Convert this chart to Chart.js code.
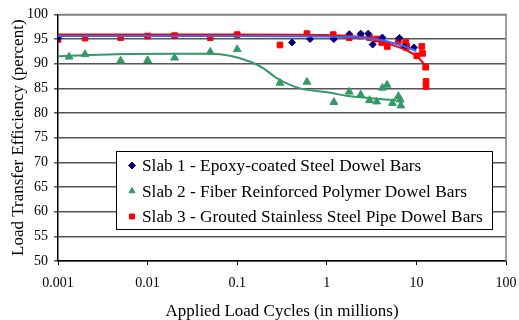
<!DOCTYPE html>
<html>
<head>
<meta charset="utf-8">
<script src="https://cdn.jsdelivr.net/npm/chart.js@4"></script>
<style>
  html, body { margin: 0; padding: 0; background: #fff; }
  #wrap { width: 519px; height: 320px; }
</style>
</head>
<body>
<div id="wrap"><canvas id="c" width="519" height="320"></canvas></div>
<script>
// 데이터 (x = 백만 회, y = %)
const slab1Points = [
  [0.001, 95.2], [0.41, 94.3], [0.65, 95.0], [1.2, 95.0], [1.78, 96.0], [2.39, 96.1],
  [2.9, 96.1], [3.25, 93.9], [4.17, 95.3], [6.46, 95.2], [7.3, 93.4], [9.4, 93.3]
];
const slab2Points = [
  [0.00133, 91.4], [0.002, 91.9], [0.005, 90.6], [0.01, 90.7], [0.02, 91.2], [0.05, 92.4],
  [0.1, 92.9], [0.3, 86.1], [0.6, 86.3], [1.2, 82.2], [1.78, 84.3], [2.39, 83.7],
  [3.0, 82.6], [3.6, 82.3], [4.17, 85.1], [4.7, 85.7], [5.4, 82.0], [6.3, 83.4],
  [6.6, 82.7], [6.7, 81.5]
];
const slab3Points = [
  [0.001, 94.9], [0.002, 95.2], [0.005, 95.3], [0.01, 95.6], [0.02, 95.7], [0.05, 95.3],
  [0.1, 95.9], [0.3, 93.8], [0.6, 96.1], [1.18, 95.9], [1.78, 95.3], [2.39, 95.6],
  [3.0, 95.3], [3.6, 95.0], [4.1, 94.3], [4.73, 93.5], [6.3, 94.7], [7.6, 94.3],
  [7.8, 93.5], [10.1, 91.6], [11.5, 93.5], [11.7, 92.1], [12.7, 89.3], [12.8, 86.4], [12.8, 85.4]
];
// 추세선
const slab1Trend = [[0.001, 95.6], [0.1, 95.6], [1, 95.5], [2, 95.4], [4, 94.8], [6, 94.0], [8, 93.3], [10, 92.6]];
const slab2Trend = [
  [0.001, 91.5], [0.0045, 91.9], [0.02, 92.0], [0.05, 92.0], [0.083, 91.6], [0.14, 90.4],
  [0.195, 89.1], [0.275, 87.1], [0.39, 85.7], [0.5, 85.0], [1.1, 84.1], [1.65, 83.5], [6.0, 82.6]
];
const slab3Trend = [[0.001, 95.9], [0.1, 95.9], [1, 95.8], [3, 95.2], [5, 94.0], [8, 92.6], [10.1, 91.5], [13, 89.4]];

const seriesLabels = [
  'Slab 1 - Epoxy-coated Steel Dowel Bars',
  'Slab 2 - Fiber Reinforced Polymer Dowel Bars',
  'Slab 3 - Grouted Stainless Steel Pipe Dowel Bars'
];
const xTicks = [0.001, 0.01, 0.1, 1, 10, 100];
const yTicks = [50, 55, 60, 65, 70, 75, 80, 85, 90, 95, 100];

const FONT = "'Liberation Serif', 'Times New Roman', serif";
const toXY = arr => arr.map(p => ({ x: p[0], y: p[1] }));

// 범례 박스 (차트 안쪽)
const legendBox = {
  id: 'legendBox',
  afterDatasetsDraw(chart) {
    const ctx = chart.ctx;
    const x0 = 116, y0 = 151, w = 376, h = 78;
    ctx.save();
    ctx.fillStyle = '#fff';
    ctx.fillRect(x0, y0, w, h);
    ctx.strokeStyle = '#000';
    ctx.lineWidth = 1;
    ctx.strokeRect(x0 + 0.5, y0 + 0.5, w, h);
    ctx.font = '17.3px ' + FONT;
    ctx.textBaseline = 'middle';
    const rows = [165.5, 191, 216.5];
    for (let i = 0; i < 3; i++) {
      const ds = chart.data.datasets[i];
      ctx.fillStyle = ds.backgroundColor;
      ctx.strokeStyle = ds.backgroundColor;
      Chart.helpers.drawPoint(ctx, {
        pointStyle: ds.pointStyle, radius: 3.5, rotation: 0, borderWidth: 1
      }, 132, rows[i]);
      ctx.fillStyle = '#000';
      ctx.fillText(seriesLabels[i], 142, rows[i] + 1);
    }
    ctx.restore();
  }
};

const frame = {
  id: 'frame',
  beforeDatasetsDraw(chart) {
    const a = chart.chartArea, ctx = chart.ctx;
    ctx.save();
    ctx.strokeStyle = '#808080';
    ctx.lineWidth = 1.5;
    ctx.beginPath();
    ctx.moveTo(a.left, a.top);
    ctx.lineTo(a.right, a.top);
    ctx.lineTo(a.right, a.bottom);
    ctx.stroke();
    ctx.restore();
  }
};

new Chart(document.getElementById('c'), {
  type: 'scatter',
  data: {
    datasets: [
      { label: seriesLabels[0], data: toXY(slab1Points), pointStyle: 'rectRot', pointRadius: 3.5,
        backgroundColor: '#000080', borderColor: '#000080', order: 2 },
      { label: seriesLabels[1], data: toXY(slab2Points), pointStyle: 'triangle', pointRadius: 4.5,
        backgroundColor: '#339966', borderColor: '#339966', order: 4 },
      { label: seriesLabels[2], data: toXY(slab3Points), pointStyle: 'rect', pointRadius: 4,
        backgroundColor: '#ff0000', borderColor: '#ff0000', order: 3 },
      { label: 't1', data: toXY(slab1Trend), showLine: true, pointRadius: 0, borderColor: '#3366ff',
        borderWidth: 2, cubicInterpolationMode: 'monotone', order: 0 },
      { label: 't2', data: toXY(slab2Trend), showLine: true, pointRadius: 0, borderColor: '#339966',
        borderWidth: 2, cubicInterpolationMode: 'monotone', order: 1 },
      { label: 't3', data: toXY(slab3Trend), showLine: true, pointRadius: 0, borderColor: '#ff0000',
        borderWidth: 2, cubicInterpolationMode: 'monotone', order: 1 }
    ]
  },
  options: {
    responsive: false,
    animation: false,
    layout: { padding: { top: 11, right: 0, left: 0, bottom: 0 } },
    plugins: { legend: { display: false }, tooltip: { enabled: false } },
    scales: {
      x: {
        type: 'logarithmic',
        min: 0.001, max: 100,
        afterBuildTicks: s => { s.ticks = xTicks.map(v => ({ value: v })); },
        afterFit: s => { s.height = 59; s.paddingRight = 13; s.paddingLeft = 0; },
        ticks: {
          callback: v => String(v), autoSkip: false, maxRotation: 0,
          color: '#000', font: { family: FONT, size: 14 }, padding: 10
        },
        grid: { drawOnChartArea: false, color: '#000', tickLength: 4 },
        border: { color: '#000', width: 1.5 },
        title: {
          display: true, text: 'Applied Load Cycles (in millions)', color: '#000',
          font: { family: FONT, size: 17, lineHeight: 1 }, padding: { top: 0, bottom: 0 }
        }
      },
      y: {
        min: 50, max: 100,
        afterBuildTicks: s => { s.ticks = yTicks.map(v => ({ value: v })); },
        afterFit: s => { s.width = 58; },
        ticks: { color: '#000', font: { family: FONT, size: 14 }, padding: 6 },
        grid: { color: '#555', lineWidth: 1.5, tickLength: 4 },
        border: { color: '#000', width: 1.5 },
        title: {
          display: true, text: 'Load Transfer Efficiency (percent)', color: '#000',
          font: { family: FONT, size: 17 }, padding: { top: 8, bottom: 0 }
        }
      }
    }
  },
  plugins: [frame, legendBox]
});
</script>
</body>
</html>
